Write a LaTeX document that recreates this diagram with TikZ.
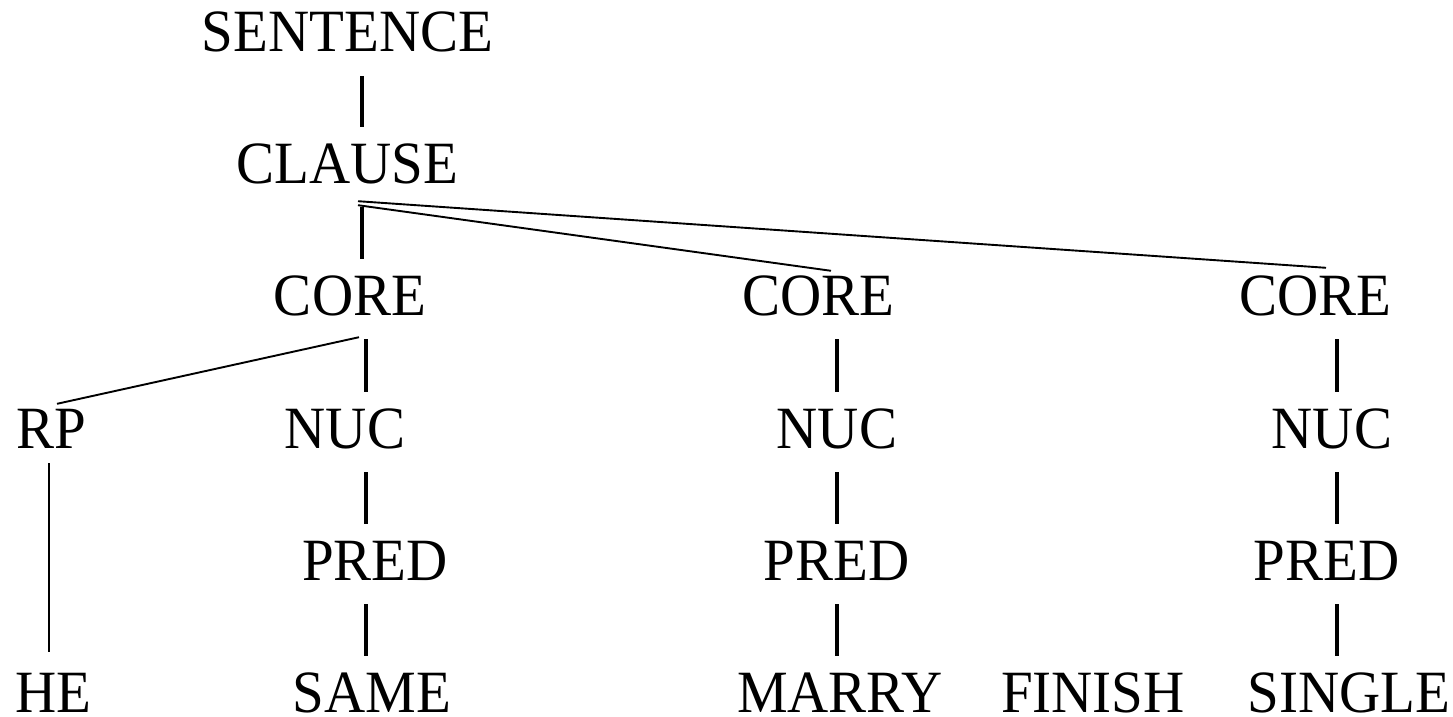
\documentclass[tikz,border=0pt]{standalone}
\usepackage{fontspec}
\setmainfont{Liberation Serif}[FakeStretch=0.95]
\begin{document}
\begin{tikzpicture}[x=1pt,y=-1pt,
  label/.style={font=\fontsize{60}{72}\selectfont, anchor=base,
    text height=40pt, text depth=8pt, inner xsep=0pt, inner ysep=16pt},
  stem/.style={line width=3.4pt},
  branch/.style={line width=1.9pt},
  thinstem/.style={line width=1.6pt}]
\useasboundingbox (0,0) rectangle (1453,717);

% tree labels, one row per level (positions are centre x, baseline y)
\node[label] (sentence) at (347.5,52) {SENTENCE};
\node[label] (clause)   at (347,183)  {CLAUSE};
\node[label] (core1)    at (350,315)  {CORE};
\node[label] (core2)    at (818,315)  {CORE};
\node[label] (core3)    at (1315,315) {CORE};
\node[label] (rp)       at (51,448)   {RP};
\node[label] (nuc1)     at (345,448)  {NUC};
\node[label] (nuc2)     at (837,448)  {NUC};
\node[label] (nuc3)     at (1332,448) {NUC};
\node[label] (pred1)    at (375,580)  {PRED};
\node[label] (pred2)    at (836.5,580) {PRED};
\node[label] (pred3)    at (1326.5,580) {PRED};
\node[label] (he)       at (53.5,712) {HE};
\node[label] (same)     at (372,712)  {SAME};
\node[label] (marry)    at (840,712)  {MARRY};
\node[label] (finish)   at (1093,712) {FINISH};
\node[label] (single)   at (1349,712) {SINGLE};

% vertical stems
\draw[stem] ([xshift=14.5]sentence.south) -- ([xshift=15]clause.north);
\draw[stem] ([xshift=15]clause.south) -- ([xshift=12]core1.north);
\draw[stem] ([xshift=16]core1.south) -- ([xshift=21]nuc1.north);
\draw[stem] ([xshift=19]core2.south) -- (nuc2.north);
\draw[stem] ([xshift=22]core3.south) -- ([xshift=5]nuc3.north);
\draw[stem] ([xshift=21]nuc1.south) -- ([xshift=-9]pred1.north);
\draw[stem] (nuc2.south) -- ([xshift=0.5]pred2.north);
\draw[stem] ([xshift=5]nuc3.south) -- ([xshift=10.5]pred3.north);
\draw[stem] ([xshift=-9]pred1.south) -- ([xshift=-6]same.north);
\draw[stem] ([xshift=0.5]pred2.south) -- ([xshift=-3]marry.north);
\draw[stem] ([xshift=10.5]pred3.south) -- ([xshift=-12]single.north);
\draw[thinstem] ([shift={(-2,-9)}]rp.south) -- ([shift={(-4.5,-4)}]he.north);

% slanted branches
\draw[branch] ([shift={(11,-2)}]clause.south) -- ([shift={(13,12)}]core2.north);
\draw[branch] ([shift={(11,-6)}]clause.south) -- ([shift={(11,9)}]core3.north);
\draw[branch] ([shift={(9,-2)}]core1.south) -- ([shift={(6,12)}]rp.north);
\end{tikzpicture}
\end{document}
